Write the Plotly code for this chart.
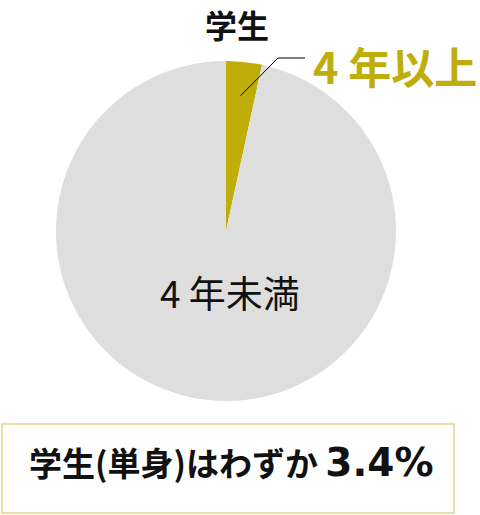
import math
import plotly.graph_objects as go

# ---- data ----
labels = ["4 年以上", "4 年未満"]
values = [3.4, 96.6]
colors = ["#BFAD0A", "#DEDEDE"]
title_text = "学生"
summary_text = "学生(単身)はわずか"
summary_value = "3.4%"

W, H = 480, 515
FONT = "Noto Sans CJK JP"

def px(x):
    return x / W

def py(y):
    return 1 - y / H

cx, cy, r = 226, 231, 170

fig = go.Figure(go.Pie(
    labels=labels,
    values=values,
    marker=dict(colors=colors, line=dict(width=0)),
    sort=False,
    direction="clockwise",
    rotation=0,
    textinfo="none",
    hoverinfo="label+percent",
    showlegend=False,
    domain=dict(x=[px(cx - r), px(cx + r)], y=[py(cy + r), py(cy - r)]),
))

mid = values[0] / sum(values) * 360 / 2
ang = math.radians(mid)
sx = cx + 0.8 * r * math.sin(ang)
sy = cy - 0.8 * r * math.cos(ang)

shapes = [
    dict(type="path", xref="paper", yref="paper",
         path=f"M {px(sx)} {py(sy)} L {px(278)} {py(58)} L {px(305)} {py(58)}",
         line=dict(color="#000000", width=1)),
    dict(type="rect", xref="paper", yref="paper",
         x0=px(2), x1=px(454), y0=py(513), y1=py(424),
         line=dict(color="#E0D68A", width=1.5), fillcolor="rgba(0,0,0,0)"),
]

annotations = [
    dict(text=f"<b>{title_text}</b>", x=px(237), y=1, xref="paper", yref="paper",
         showarrow=False, xanchor="center", yanchor="top", borderpad=0,
         font=dict(family=FONT, size=32, color="#111111")),
    dict(text=f"<b>{labels[0]}</b>", x=px(311), y=py(65), xref="paper", yref="paper",
         showarrow=False, xanchor="left", yanchor="middle",
         font=dict(family=FONT, size=43, color=colors[0])),
    dict(text=labels[1], x=px(230), y=py(292), xref="paper", yref="paper",
         showarrow=False, xanchor="center", yanchor="middle",
         font=dict(family=FONT, size=37, color="#111111")),
    dict(text=(f"<b>{summary_text}</b> <span style='font-family:\"DejaVu Sans\";font-size:39px;"
               f"font-weight:bold'>{summary_value}</span>"),
         x=px(27), y=py(462), xref="paper", yref="paper",
         showarrow=False, xanchor="left", yanchor="middle",
         font=dict(family=FONT, size=33, color="#111111")),
]

fig.update_layout(
    width=W, height=H,
    margin=dict(l=0, r=0, t=0, b=0),
    paper_bgcolor="white", plot_bgcolor="white",
    shapes=shapes, annotations=annotations,
)

fig.write_html("out.html", config={"displayModeBar": False})
